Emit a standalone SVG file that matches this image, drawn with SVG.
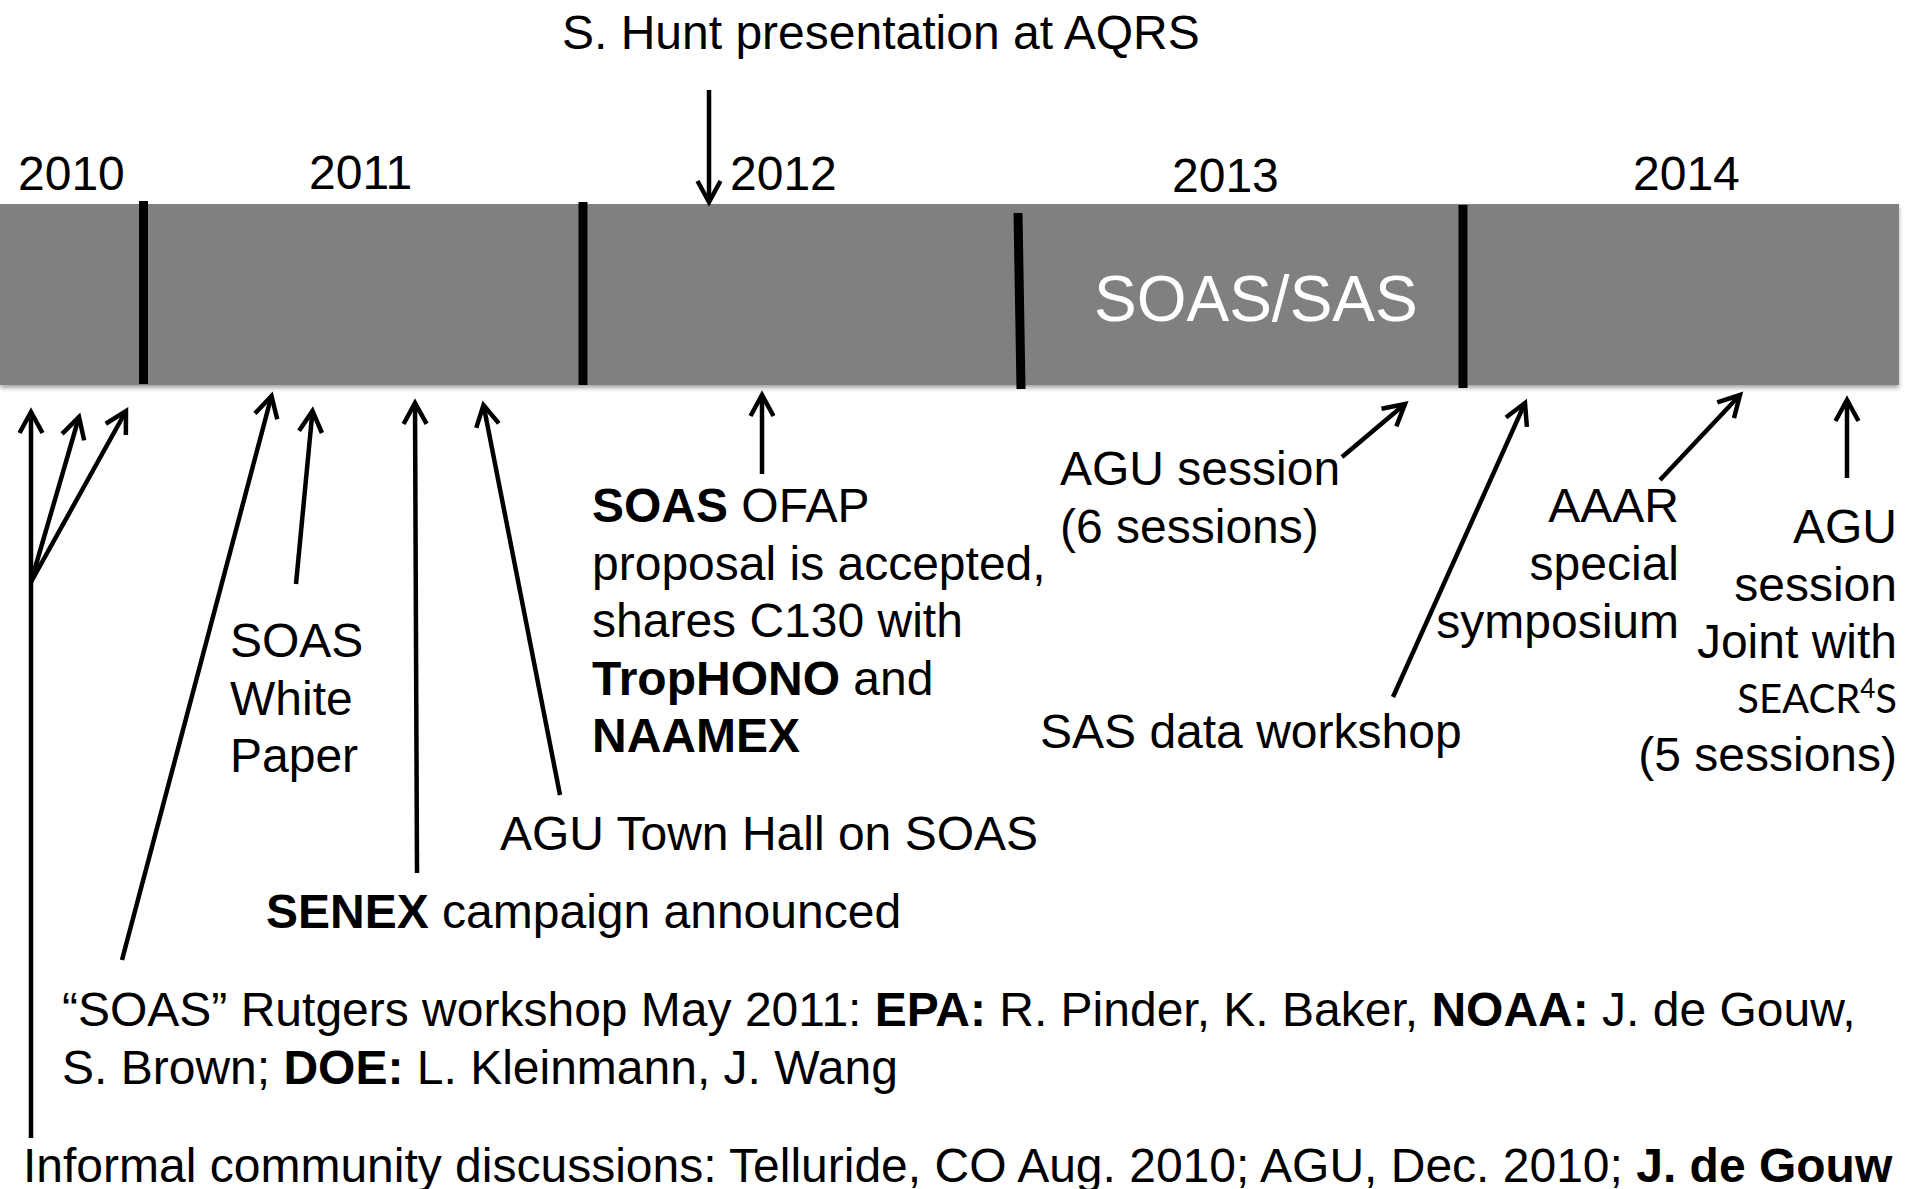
<svg xmlns="http://www.w3.org/2000/svg" width="1907" height="1189" viewBox="0 0 1907 1189">
  <style>
    text { font-family: "Liberation Sans", Arial, sans-serif; font-size: 48px; fill: #000; }
    .b { font-weight: bold; }
    .end { text-anchor: end; }
    .bar { fill: #808080; }
    .divider { stroke: #000; stroke-width: 9; stroke-linecap: butt; }
    .arrow { stroke: #000; stroke-width: 4.5; fill: none; marker-end: url(#head); }
    .title { fill: #fff; font-size: 64px; }
    .calibri { font-family: Lato, "Liberation Sans", sans-serif; font-size: 40px; }
  </style>
  <defs>
    <marker id="head" markerUnits="userSpaceOnUse" markerWidth="30" markerHeight="30" refX="0" refY="0" orient="auto" viewBox="-25 -15 30 30" overflow="visible">
      <path d="M-21,-11.5 L0,0 L-21,11.5" fill="none" stroke="#000" stroke-width="4.5" stroke-linejoin="miter"/>
    </marker>
    <filter id="shadow" x="-5%" y="-20%" width="110%" height="140%">
      <feDropShadow dx="0" dy="3" stdDeviation="2" flood-color="#000" flood-opacity="0.35"/>
    </filter>
  </defs>

  <rect width="1907" height="1189" fill="#fff"/>

  <!-- timeline bar with year dividers -->
  <g id="timeline">
    <rect class="bar" x="0" y="204" width="1899" height="181" filter="url(#shadow)"/>
    <line class="divider" x1="143.5" y1="201" x2="143.5" y2="384"/>
    <line class="divider" x1="583" y1="202" x2="583" y2="385"/>
    <line class="divider" x1="1018" y1="213" x2="1021" y2="389"/>
    <line class="divider" x1="1463" y1="205" x2="1463" y2="388"/>
    <text class="title" x="1094" y="321">SOAS/SAS</text>
  </g>

  <!-- year labels -->
  <g id="years">
    <text x="18" y="190">2010</text>
    <text x="309" y="189">2011</text>
    <text x="730" y="190">2012</text>
    <text x="1172" y="192">2013</text>
    <text x="1633" y="190">2014</text>
  </g>

  <!-- events -->
  <g id="hunt-aqrs">
    <text x="562" y="49">S. Hunt presentation at AQRS</text>
  </g>

  <g id="white-paper">
    <text x="230" y="657">SOAS</text>
    <text x="230" y="715">White</text>
    <text x="230" y="772">Paper</text>
  </g>

  <g id="ofap">
    <text x="592" y="522"><tspan class="b">SOAS</tspan> OFAP</text>
    <text x="592" y="580">proposal is accepted,</text>
    <text x="592" y="637">shares C130 with</text>
    <text x="592" y="695"><tspan class="b">TropHONO</tspan> and</text>
    <text x="592" y="752"><tspan class="b">NAAMEX</tspan></text>
  </g>

  <g id="agu-town-hall">
    <text x="500" y="850">AGU Town Hall on SOAS</text>
  </g>

  <g id="senex">
    <text x="266" y="928"><tspan class="b">SENEX</tspan> campaign announced</text>
  </g>

  <g id="rutgers">
    <text x="62" y="1026">“SOAS” Rutgers workshop May 2011: <tspan class="b">EPA:</tspan> R. Pinder, K. Baker, <tspan class="b">NOAA:</tspan> J. de Gouw,</text>
    <text x="62" y="1084">S. Brown; <tspan class="b">DOE:</tspan> L. Kleinmann, J. Wang</text>
  </g>

  <g id="informal">
    <text x="23" y="1182">Informal community discussions: Telluride, CO Aug. 2010; AGU, Dec. 2010; <tspan class="b">J. de Gouw</tspan></text>
  </g>

  <g id="agu-2013">
    <text x="1060" y="485">AGU session</text>
    <text x="1060" y="543">(6 sessions)</text>
  </g>

  <g id="sas-workshop">
    <text x="1040" y="748">SAS data workshop</text>
  </g>

  <g id="aaar">
    <text class="end" x="1679" y="522">AAAR</text>
    <text class="end" x="1679" y="580">special</text>
    <text class="end" x="1679" y="638">symposium</text>
  </g>

  <g id="agu-2014">
    <text class="end" x="1897" y="543">AGU</text>
    <text class="end" x="1897" y="601">session</text>
    <text class="end" x="1897" y="658">Joint with</text>
    <text class="end calibri" x="1897" y="713">SEACR<tspan font-size="26" dy="-15">4</tspan><tspan dy="15">S</tspan></text>
    <text class="end" x="1897" y="771">(5 sessions)</text>
  </g>

  <!-- connectors -->
  <g id="connectors">
    <line class="arrow" x1="709" y1="90" x2="709" y2="202"/>
    <line class="arrow" x1="31" y1="1138" x2="31" y2="412"/>
    <line class="arrow" x1="31" y1="582" x2="79" y2="417"/>
    <line class="arrow" x1="31" y1="582" x2="126" y2="411"/>
    <line class="arrow" x1="122" y1="960" x2="271.5" y2="396"/>
    <line class="arrow" x1="296" y1="584" x2="312.5" y2="411"/>
    <line class="arrow" x1="417" y1="873" x2="415" y2="403"/>
    <line class="arrow" x1="560" y1="795" x2="483.5" y2="405"/>
    <line class="arrow" x1="762" y1="474" x2="762" y2="395"/>
    <line class="arrow" x1="1342" y1="457" x2="1405" y2="404"/>
    <line class="arrow" x1="1393" y1="697" x2="1525" y2="403"/>
    <line class="arrow" x1="1660" y1="480" x2="1740" y2="395"/>
    <line class="arrow" x1="1847" y1="478" x2="1847" y2="400"/>
  </g>
</svg>
